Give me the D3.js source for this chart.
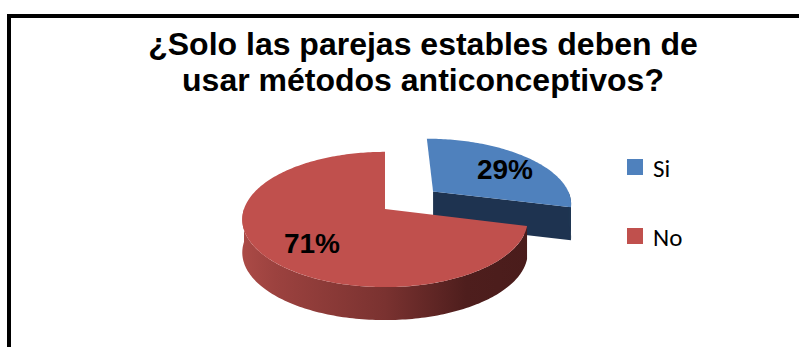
<!DOCTYPE html>
<html>
<head>
<meta charset="utf-8">
<script src="https://cdn.jsdelivr.net/npm/d3@7"></script>
<style>
  html, body { margin: 0; padding: 0; background: #fff; }
  svg { display: block; }
</style>
</head>
<body>
<svg id="chart" width="799" height="347"></svg>
<script>
// Survey answers
const categories = ["Si", "No"];
const values = [29, 71];
const valueLabels = ["29%", "71%"];
const titleLines = ["¿Solo las parejas estables deben de", "usar métodos anticonceptivos?"];

const W = 799, H = 347;
const svg = d3.select("#chart");

// Frame around the chart area
svg.append("path")
  .attr("d", `M9,${H + 5}V16H${W + 5}`)
  .attr("fill", "none")
  .attr("stroke", "#000")
  .attr("stroke-width", 4);

// Title
svg.append("g").selectAll("text")
  .data(titleLines)
  .join("text")
  .attr("x", 423)
  .attr("y", (d, i) => 55 + i * 36)
  .attr("text-anchor", "middle")
  .attr("font-family", "'Liberation Sans', Arial, sans-serif")
  .attr("font-weight", "bold")
  .attr("font-size", 32)
  .attr("fill", "#000")
  .text(d => d);

// Colours
const topColor = d3.scaleOrdinal().domain(categories).range(["#4F81BD", "#C0504D"]);
const sideColor = d3.scaleOrdinal().domain(categories).range(["#1F3552", "url(#redSide)"]);

const defs = svg.append("defs");
const grad = defs.append("linearGradient")
  .attr("id", "redSide")
  .attr("gradientUnits", "userSpaceOnUse")
  .attr("x1", 240).attr("x2", 530).attr("y1", 0).attr("y2", 0);
[[0, "#AC4B47"], [0.12, "#9C423F"], [0.5, "#7A3230"], [0.78, "#4E1E1D"], [1, "#4A1C1B"]]
  .forEach(([o, c]) => grad.append("stop").attr("offset", o).attr("stop-color", c));

// 3D pie geometry (disk coordinates projected with a mild perspective)
const cx = 385, cy = 209, rx = 141, ry = 66, depth = 33, persp = 0.155;
const explode = [0.45, 0];

function proj(u, v, h) {
  const s = 1 / (1 - persp * v);
  return [cx + rx * u * s, cy + ry * v * s + h * depth];
}

const pie = d3.pie().sort(null).startAngle(0).endAngle(2 * Math.PI).value(d => d);
const arcs = pie(values).map((a, i) => {
  const mid = (a.startAngle + a.endAngle) / 2;
  const e = explode[i];
  return { ...a, cat: categories[i], label: valueLabels[i],
           ou: e * Math.sin(mid), ov: -e * Math.cos(mid) };
});

function rimPts(a, t0, t1, h) {
  const n = Math.max(2, Math.ceil((t1 - t0) / 0.02));
  const pts = [];
  for (let k = 0; k <= n; k++) {
    const t = t0 + (t1 - t0) * k / n;
    pts.push(proj(a.ou + Math.sin(t), a.ov - Math.cos(t), h));
  }
  return pts;
}

const line = d3.line();

function drawSlice(g, a) {
  const center0 = proj(a.ou, a.ov, 0), center1 = proj(a.ou, a.ov, 1);
  // cut face at the end angle, visible when it points towards the viewer
  const t = a.endAngle;
  if (Math.sin(t) > 0 && Math.cos(t) < 0) {
    const r0 = proj(a.ou + Math.sin(t), a.ov - Math.cos(t), 0);
    const r1 = proj(a.ou + Math.sin(t), a.ov - Math.cos(t), 1);
    g.append("path")
      .attr("d", line([center0, r0, r1, center1]) + "Z")
      .attr("fill", "#1E3350");
  }
  // outer rim side (front half)
  const t0 = Math.max(a.startAngle, Math.PI / 2), t1 = Math.min(a.endAngle, 1.5 * Math.PI);
  if (t1 > t0) {
    const top = rimPts(a, t0, t1, 0), bot = rimPts(a, t0, t1, 1).reverse();
    g.append("path")
      .attr("d", line(top.concat(bot)) + "Z")
      .attr("fill", sideColor(a.cat));
  }
  // top face
  const face = [center0].concat(rimPts(a, a.startAngle, a.endAngle, 0));
  g.append("path")
    .attr("d", line(face) + "Z")
    .attr("fill", topColor(a.cat));
}

const pieG = svg.append("g");
// exploded slice sits behind the larger one
drawSlice(pieG, arcs[0]);
drawSlice(pieG, arcs[1]);

// Value labels
const labelPos = [[505, 179], [312, 253]];
svg.append("g").selectAll("text")
  .data(arcs)
  .join("text")
  .attr("x", (d, i) => labelPos[i][0])
  .attr("y", (d, i) => labelPos[i][1])
  .attr("text-anchor", "middle")
  .attr("font-family", "'Liberation Sans', Arial, sans-serif")
  .attr("font-weight", "bold")
  .attr("font-size", 28)
  .attr("fill", "#000")
  .text(d => d.label);

// Legend
const legend = svg.append("g").attr("transform", "translate(627,159)");
const items = legend.selectAll("g")
  .data(categories)
  .join("g")
  .attr("transform", (d, i) => `translate(0,${i * 69})`);
items.append("rect")
  .attr("width", 16).attr("height", 16)
  .attr("fill", d => topColor(d));
items.append("text")
  .attr("x", 26).attr("y", 18)
  .attr("font-family", "Carlito, Calibri, Lato, 'Open Sans', sans-serif")
  .attr("font-size", 25)
  .attr("fill", "#000")
  .text(d => d);
</script>
</body>
</html>
